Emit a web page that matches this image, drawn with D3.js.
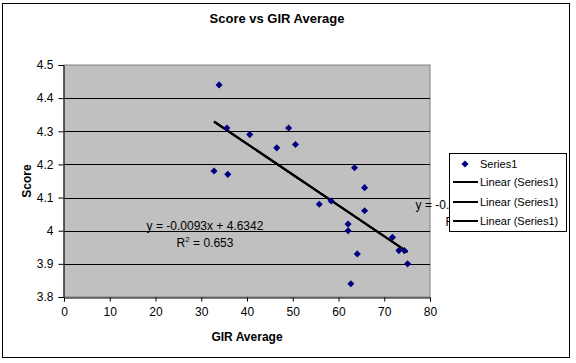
<!DOCTYPE html>
<html>
<head>
<meta charset="utf-8">
<script src="https://cdn.jsdelivr.net/npm/d3@7"></script>
<style>
 body{margin:0;background:#fff;}
 text{font-family:"Liberation Sans",Arial,sans-serif;}
</style>
</head>
<body>
<div id="chart"></div>
<script>
// GIR average (x) and score (y)
var gir   = [33.9, 35.6, 32.8, 35.8, 40.6, 49.1, 46.5, 50.6, 63.5, 65.7, 55.8,
             58.4, 65.7, 62.1, 62.1, 71.8, 73.2, 74.4, 75.1, 64.1, 62.7];
var score = [4.44, 4.31, 4.18, 4.17, 4.29, 4.31, 4.25, 4.26, 4.19, 4.13, 4.08,
             4.09, 4.06, 4.02, 4.00, 3.98, 3.94, 3.94, 3.90, 3.93, 3.84];
var xTicks = [0, 10, 20, 30, 40, 50, 60, 70, 80];
var yTicks = [3.8, 3.9, 4, 4.1, 4.2, 4.3, 4.4, 4.5];
var slope = -0.0093, intercept = 4.6342;
var eqText = "y = -0.0093x + 4.6342", r2Text = "0.653";
var legendItems = ["Series1", "Linear (Series1)", "Linear (Series1)", "Linear (Series1)"];

var width = 576, height = 363;
var svg = d3.select('#chart').append('svg')
   .attr('width', width).attr('height', height);

// outer chart border
svg.append('rect').attr('x', 2.5).attr('y', 3.5).attr('width', 567).attr('height', 354)
   .attr('fill', '#fff').attr('stroke', '#000').attr('stroke-width', 1);

var x = d3.scaleLinear().domain([0, 80]).range([64, 430]);
var y = d3.scaleLinear().domain([3.8, 4.5]).range([297, 65]);

// plot area
svg.append('rect').attr('x', x(0)).attr('y', y(4.5))
   .attr('width', x(80) - x(0)).attr('height', y(3.8) - y(4.5))
   .attr('fill', '#c0c0c0').attr('stroke', '#808080').attr('stroke-width', 1);

// gridlines
svg.selectAll('line.grid').data(yTicks.slice(1, -1)).enter().append('line')
   .attr('x1', x(0)).attr('x2', x(80))
   .attr('y1', function(d){ return Math.round(y(d)) + 0.5; })
   .attr('y2', function(d){ return Math.round(y(d)) + 0.5; })
   .attr('stroke', '#000').attr('stroke-width', 1);

// axes
var xAxis = d3.axisBottom(x).tickValues(xTicks).tickSize(4).tickPadding(6).tickFormat(d3.format('d'));
var yAxis = d3.axisLeft(y).tickValues(yTicks).tickSize(5).tickPadding(5).tickFormat(function(d){ return d == 4 ? '4' : d3.format('.1f')(d); });

var gx = svg.append('g').attr('transform', 'translate(0,' + (y(3.8) + 0.5) + ')').call(xAxis);
var gy = svg.append('g').attr('transform', 'translate(' + (x(0) - 0.5) + ',0)').call(yAxis);
[gx, gy].forEach(function(g){
  g.select('.domain').attr('stroke', '#000');
  g.selectAll('.tick line').attr('stroke', '#000');
  g.selectAll('text').style('font-size', '12px').attr('fill', '#000')
   .style('font-family', '"Liberation Sans",Arial,sans-serif');
});

// trendlines (three, on top of each other)
var x0 = d3.min(gir), x1 = d3.max(gir);
for (var t = 0; t < 3; t++) {
  svg.append('line')
     .attr('x1', x(x0)).attr('y1', y(slope * x0 + intercept))
     .attr('x2', x(x1)).attr('y2', y(slope * x1 + intercept))
     .attr('stroke', '#000').attr('stroke-width', 2);
}

// points
var diamond = d3.symbol().type(d3.symbolDiamond2).size(32);
svg.selectAll('path.pt').data(gir).enter().append('path')
   .attr('transform', function(d, i){ return 'translate(' + x(d) + ',' + y(score[i]) + ')'; })
   .attr('d', diamond)
   .attr('fill', '#000080');

// equation labels
function eqLabel(cx, cy) {
  svg.append('text').attr('x', cx).attr('y', cy).attr('text-anchor', 'middle')
     .style('font-size', '12px').text(eqText);
  var r = svg.append('text').attr('x', cx).attr('y', cy + 17).attr('text-anchor', 'middle')
     .style('font-size', '12px');
  r.append('tspan').text('R');
  r.append('tspan').attr('dy', -5).style('font-size', '8px').text('2');
  r.append('tspan').attr('dy', 5).text(' = ' + r2Text);
}
eqLabel(205, 230);
eqLabel(474, 209);

// title and axis titles
svg.append('text').attr('x', 277).attr('y', 23).attr('text-anchor', 'middle')
   .style('font-size', '13px').style('font-weight', 'bold').text('Score vs GIR Average');
svg.append('text').attr('x', 247).attr('y', 341).attr('text-anchor', 'middle')
   .style('font-size', '12px').style('font-weight', 'bold').text('GIR Average');
svg.append('text').attr('transform', 'translate(31,181) rotate(-90)').attr('text-anchor', 'middle')
   .style('font-size', '12px').style('font-weight', 'bold').text('Score');

// legend (drawn last, it covers the second equation label as in the original)
var lg = svg.append('g').attr('transform', 'translate(449,153)');
lg.append('rect').attr('x', 0.5).attr('y', 0.5).attr('width', 117).attr('height', 78)
  .attr('fill', '#fff').attr('stroke', '#000');
var rows = lg.selectAll('g.row').data(legendItems).enter().append('g')
  .attr('transform', function(d, i){ return 'translate(0,' + [11, 29, 49, 68][i] + ')'; });
rows.each(function(d, i){
  var r = d3.select(this);
  if (i == 0) r.append('path').attr('d', diamond).attr('transform', 'translate(16,0)').attr('fill', '#000080');
  else r.append('line').attr('x1', 4).attr('x2', 29).attr('y1', 0).attr('y2', 0).attr('stroke', '#000').attr('stroke-width', 2);
  r.append('text').attr('x', 31).attr('y', 4).style('font-size', '11px').text(d);
});
</script>
</body>
</html>
